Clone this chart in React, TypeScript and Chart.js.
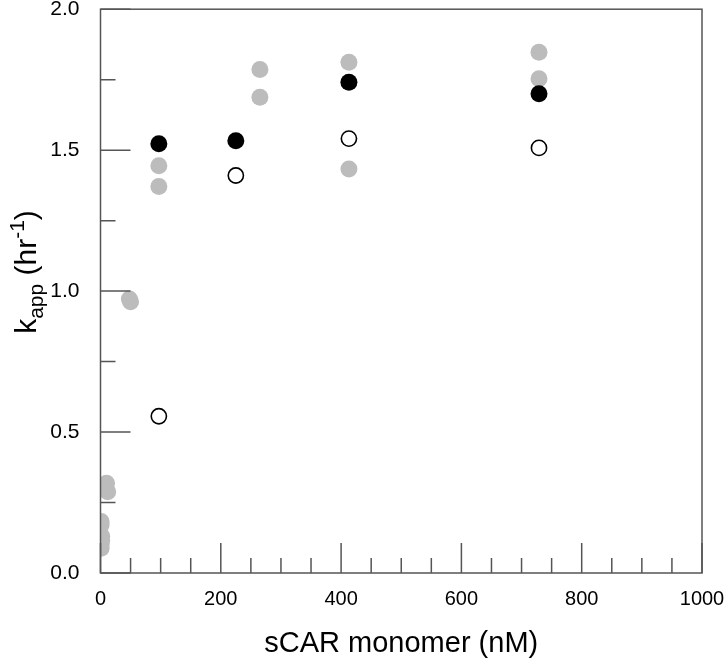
import React, { useEffect, useRef } from "react";
import { Chart, registerables } from "chart.js";

Chart.register(...registerables);

// ---- data ----
const xTickValues = [0, 200, 400, 600, 800, 1000];
const yTickValues = [0, 0.5, 1.0, 1.5, 2.0];
const xMinorStep = 50;
const yMinorStep = 0.25;

const filledX = [97, 225, 413, 729];
const filledY = [1.523, 1.533, 1.741, 1.7];

const openX = [97, 225, 413, 729];
const openY = [0.556, 1.41, 1.541, 1.508];

const grayX = [1, 1, 2, 2, 1, 1, 10, 12, 48, 50, 97, 97, 265, 265, 413, 413, 729, 729];
const grayY = [0.183, 0.17, 0.13, 0.115, 0.1, 0.088, 0.318, 0.288, 0.972, 0.962, 1.445, 1.371, 1.786, 1.688, 1.812, 1.433, 1.847, 1.753];

const FONT = "'Liberation Sans', Arial, sans-serif";
const AXIS_COLOR = "#555555";

const toPoints = (xs: number[], ys: number[]) => xs.map((x, i) => ({ x, y: ys[i] }));

const zeroPad = (s: any) => {
  s.paddingTop = 0;
  s.paddingBottom = 0;
  s.paddingLeft = 0;
  s.paddingRight = 0;
};

const framePlugin = {
  id: "frameTicks",
  afterDraw(chart: any) {
    const { ctx, chartArea } = chart;
    const { left, right, top, bottom } = chartArea;
    const xs = chart.scales.x;
    const ys = chart.scales.y;
    ctx.save();
    ctx.strokeStyle = AXIS_COLOR;
    ctx.lineWidth = 1.5;
    ctx.strokeRect(left, top, right - left, bottom - top);
    ctx.beginPath();
    for (let v = 0; v <= 1000 + 1e-6; v += xMinorStep) {
      const px = xs.getPixelForValue(v);
      const major = Math.abs(v % 200) < 1e-6;
      const len = major ? 30 : 15;
      ctx.moveTo(px, bottom);
      ctx.lineTo(px, bottom - len);
    }
    for (let k = 0; k <= 8; k++) {
      const v = k * yMinorStep;
      const py = ys.getPixelForValue(v);
      const major = k % 2 === 0;
      const len = major ? 30 : 15;
      ctx.moveTo(left, py);
      ctx.lineTo(left + len, py);
    }
    ctx.stroke();

    // y axis title: k_app (hr^-1)
    const cx = 26;
    const cy = 272;
    const big = 30;
    const small = 21;
    const parts = [
      { t: "k", size: big, dy: 0 },
      { t: "app", size: small, dy: 7 },
      { t: " (hr", size: big, dy: 0 },
      { t: "-1", size: small, dy: -12 },
      { t: ")", size: big, dy: 0 },
    ];
    let total = 0;
    for (const p of parts) {
      ctx.font = `${p.size}px ${FONT}`;
      total += ctx.measureText(p.t).width;
    }
    ctx.translate(cx, cy);
    ctx.rotate(-Math.PI / 2);
    ctx.fillStyle = "#000";
    ctx.textBaseline = "alphabetic";
    let x = -total / 2;
    for (const p of parts) {
      ctx.font = `${p.size}px ${FONT}`;
      ctx.fillText(p.t, x, 10 + p.dy);
      x += ctx.measureText(p.t).width;
    }
    ctx.restore();
  },
};

export default function App() {
  const ref = useRef<HTMLCanvasElement | null>(null);
  useEffect(() => {
    if (!ref.current) return;
    const chart = new Chart(ref.current, {
      type: "scatter",
      data: {
        datasets: [
          {
            label: "filled",
            data: toPoints(filledX, filledY),
            backgroundColor: "#000000",
            borderColor: "#000000",
            borderWidth: 0,
            pointRadius: 8.5,
          },
          {
            label: "open",
            data: toPoints(openX, openY),
            backgroundColor: "#ffffff",
            borderColor: "#000000",
            borderWidth: 1.6,
            pointRadius: 7.6,
          },
          {
            label: "gray",
            data: toPoints(grayX, grayY),
            backgroundColor: "#bcbcbc",
            borderColor: "#bcbcbc",
            borderWidth: 0,
            pointRadius: 8.5,
          },
        ],
      },
      options: {
        animation: false,
        responsive: false,
        events: [],
        layout: { padding: { left: 0, top: 7, right: 23, bottom: 0 } },
        plugins: { legend: { display: false }, tooltip: { enabled: false } },
        scales: {
          x: {
            type: "linear",
            min: 0,
            max: 1000,
            afterBuildTicks: (s: any) => {
              s.ticks = xTickValues.map((v) => ({ value: v }));
            },
            afterFit: (s: any) => {
              s.height = 88;
              zeroPad(s);
            },
            grid: { display: false, drawTicks: false },
            border: { display: false },
            ticks: {
              color: "#000",
              font: { family: FONT, size: 20 },
              padding: 14,
              maxRotation: 0,
              autoSkip: false,
              callback: (v: any) => String(v),
            },
            title: {
              display: true,
              text: "sCAR monomer (nM)",
              color: "#000",
              font: { family: FONT, size: 29 },
              padding: { top: 0, bottom: 0 },
            },
          },
          y: {
            type: "linear",
            min: 0,
            max: 2,
            afterBuildTicks: (s: any) => {
              s.ticks = yTickValues.map((v) => ({ value: v }));
            },
            afterFit: (s: any) => {
              s.width = 100.5;
              zeroPad(s);
            },
            grid: { display: false, drawTicks: false },
            border: { display: false },
            ticks: {
              color: "#000",
              font: { family: FONT, size: 21 },
              padding: 21,
              callback: (v: any) => Number(v).toFixed(1),
            },
          },
        },
      },
      plugins: [framePlugin],
    });
    return () => chart.destroy();
  }, []);
  return (
    <div style={{ position: "absolute", left: 0, top: 0, width: 725, height: 661, background: "#fff" }}>
      <canvas ref={ref} width={725} height={661} />
    </div>
  );
}
